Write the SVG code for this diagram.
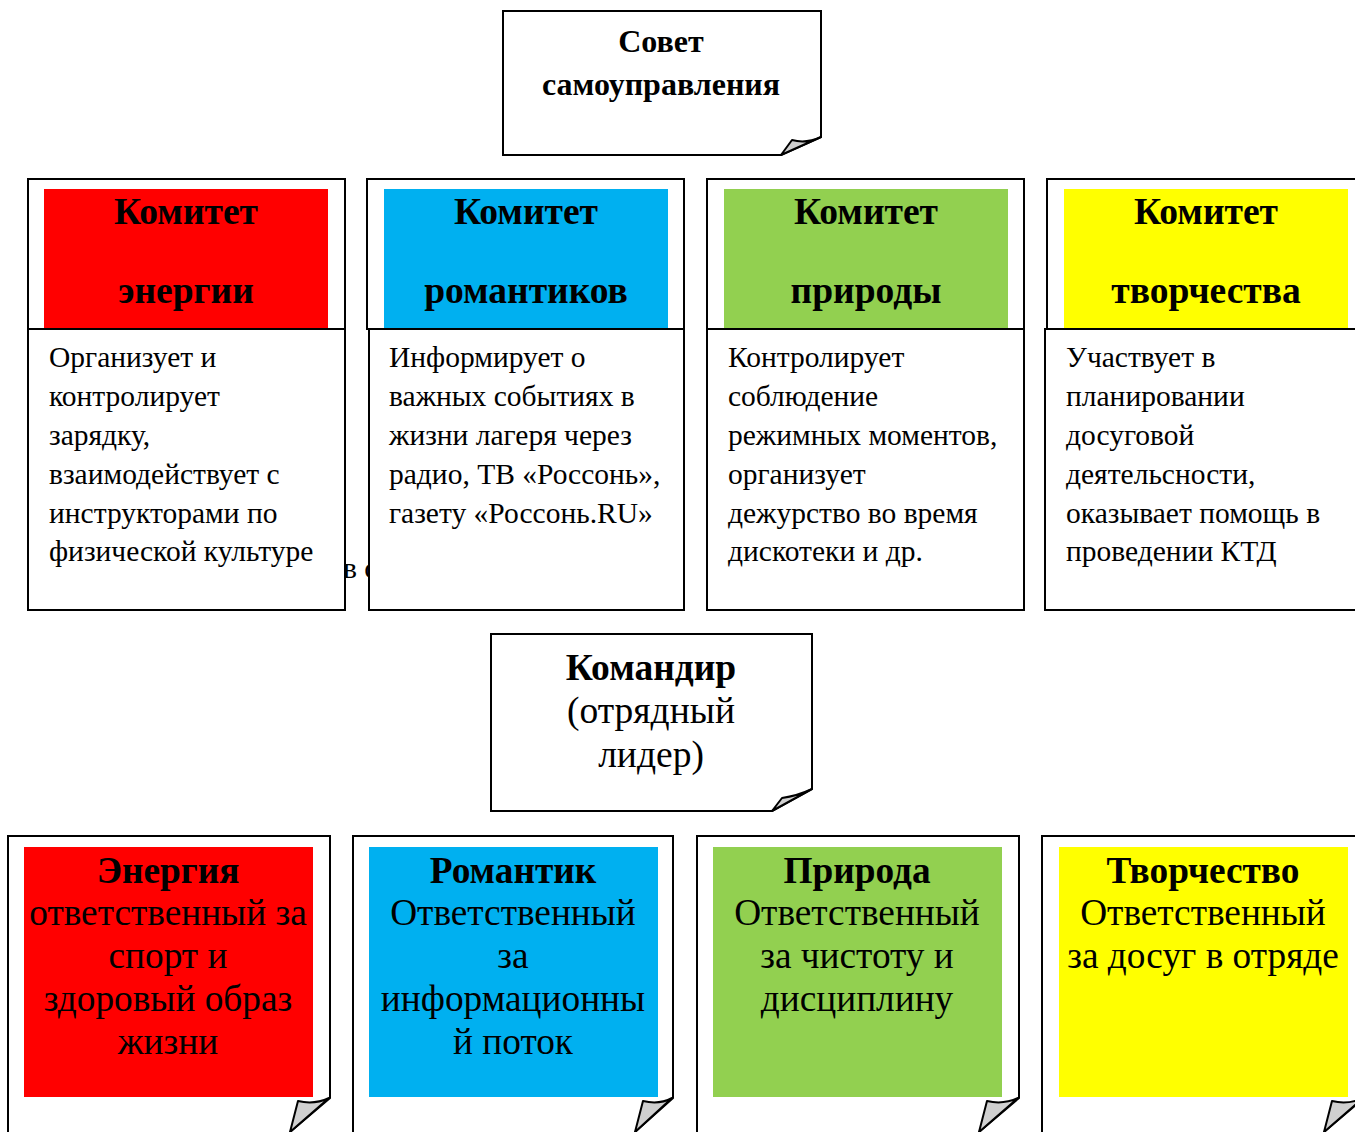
<svg xmlns="http://www.w3.org/2000/svg" width="1355" height="1132" viewBox="0 0 1355 1132">
<style>
.box{fill:#fff;stroke:#000;stroke-width:2}
.fold{fill:#d0d0d0;stroke:#000;stroke-width:2;stroke-linejoin:round}
.t{font-family:"Liberation Serif","Times New Roman",serif;fill:#000}
.b{font-weight:bold}
.c{text-anchor:middle}
.hd{font-size:37.5px;font-weight:bold;text-anchor:middle}
.ds{font-size:29.5px}
.bt{font-size:37.3px;text-anchor:middle}
</style>
<rect width="1355" height="1132" fill="#fff"/>
<g id="connectors"></g>

<g id="sovet">
<path class="box" d="M503,11 H821 V137 L781,155 H503 Z"/>
<path class="fold" d="M781,155 L792,140 Q806,144 821,137 Z"/>
<text class="t b c" x="661" y="52" font-size="32">Совет</text>
<text class="t b c" x="661" y="95" font-size="32">самоуправления</text>
</g>

<text class="t" x="343" y="578" font-size="29.5">в с</text>

<g id="kom-energii">
<rect class="box" x="28" y="179" width="317" height="150"/>
<rect x="44" y="189" width="284" height="139" fill="#ff0000"/>
<text class="t hd" x="186" y="224">Комитет</text>
<text class="t hd" x="186" y="303">энергии</text>
<rect class="box" x="28" y="329" width="317" height="281"/>
<text class="t ds" x="49" y="367">Организует и</text>
<text class="t ds" x="49" y="406">контролирует</text>
<text class="t ds" x="49" y="445">зарядку,</text>
<text class="t ds" x="49" y="484">взаимодействует с</text>
<text class="t ds" x="49" y="523">инструкторами по</text>
<text class="t ds" x="49" y="561">физической культуре</text>
</g>

<g id="kom-romantikov">
<rect class="box" x="367" y="179" width="317" height="150"/>
<rect x="384" y="189" width="284" height="139" fill="#00b0f0"/>
<text class="t hd" x="526" y="224">Комитет</text>
<text class="t hd" x="526" y="303">романтиков</text>
<rect class="box" x="369" y="329" width="315" height="281"/>
<text class="t ds" x="389" y="367">Информирует о</text>
<text class="t ds" x="389" y="406">важных событиях в</text>
<text class="t ds" x="389" y="445">жизни лагеря через</text>
<text class="t ds" x="389" y="484">радио, ТВ «Россонь»,</text>
<text class="t ds" x="389" y="523">газету «Россонь.RU»</text>
</g>

<g id="kom-prirody">
<rect class="box" x="707" y="179" width="317" height="150"/>
<rect x="724" y="189" width="284" height="139" fill="#92d050"/>
<text class="t hd" x="866" y="224">Комитет</text>
<text class="t hd" x="866" y="303">природы</text>
<rect class="box" x="707" y="329" width="317" height="281"/>
<text class="t ds" x="728" y="367">Контролирует</text>
<text class="t ds" x="728" y="406">соблюдение</text>
<text class="t ds" x="728" y="445">режимных моментов,</text>
<text class="t ds" x="728" y="484">организует</text>
<text class="t ds" x="728" y="523">дежурство во время</text>
<text class="t ds" x="728" y="561">дискотеки и др.</text>
</g>

<g id="kom-tvorchestva">
<rect class="box" x="1047" y="179" width="317" height="150"/>
<rect x="1064" y="189" width="284" height="139" fill="#ffff00"/>
<text class="t hd" x="1206" y="224">Комитет</text>
<text class="t hd" x="1206" y="303">творчества</text>
<rect class="box" x="1045" y="329" width="319" height="281"/>
<text class="t ds" x="1066" y="367">Участвует в</text>
<text class="t ds" x="1066" y="406">планировании</text>
<text class="t ds" x="1066" y="445">досуговой</text>
<text class="t ds" x="1066" y="484">деятельсности,</text>
<text class="t ds" x="1066" y="523">оказывает помощь в</text>
<text class="t ds" x="1066" y="561">проведении КТД</text>
</g>

<g id="komandir">
<path class="box" d="M491,634 H812 V789 L772,811 H491 Z"/>
<path class="fold" d="M772,811 L782,798 Q797,796 812,789 Z"/>
<text class="t b c" x="651" y="680" font-size="37.5">Командир</text>
<text class="t c" x="651" y="723" font-size="37.5">(отрядный</text>
<text class="t c" x="651" y="767" font-size="37.5">лидер)</text>
</g>

<g id="energiya">
<path class="box" d="M8,1140 V836 H330 V1098 L290,1132"/>
<rect x="24" y="847" width="289" height="250" fill="#ff0000"/>
<path class="fold" d="M290,1132 L298,1101 Q314,1105 329,1098 Z"/>
<text class="t bt b" x="168" y="883">Энергия</text>
<text class="t bt" x="168" y="925">ответственный за</text>
<text class="t bt" x="168" y="968">спорт и</text>
<text class="t bt" x="168" y="1011">здоровый образ</text>
<text class="t bt" x="168" y="1054">жизни</text>
</g>

<g id="romantik">
<path class="box" d="M353,1140 V836 H673 V1098 L635,1132"/>
<rect x="369" y="847" width="289" height="250" fill="#00b0f0"/>
<path class="fold" d="M635,1132 L643,1101 Q659,1105 672,1098 Z"/>
<text class="t bt b" x="513" y="883">Романтик</text>
<text class="t bt" x="513" y="925">Ответственный</text>
<text class="t bt" x="513" y="968">за</text>
<text class="t bt" x="513" y="1011">информационны</text>
<text class="t bt" x="513" y="1054">й поток</text>
</g>

<g id="priroda">
<path class="box" d="M697,1140 V836 H1019 V1098 L979,1132"/>
<rect x="713" y="847" width="289" height="250" fill="#92d050"/>
<path class="fold" d="M979,1132 L987,1101 Q1003,1105 1018,1098 Z"/>
<text class="t bt b" x="857" y="883">Природа</text>
<text class="t bt" x="857" y="925">Ответственный</text>
<text class="t bt" x="857" y="968">за чистоту и</text>
<text class="t bt" x="857" y="1011">дисциплину</text>
</g>

<g id="tvorchestvo">
<path class="box" d="M1042,1140 V836 H1364 V1098 L1324,1132"/>
<rect x="1059" y="847" width="289" height="250" fill="#ffff00"/>
<path class="fold" d="M1324,1132 L1332,1101 Q1348,1105 1363,1098 Z"/>
<text class="t bt b" x="1203" y="883">Творчество</text>
<text class="t bt" x="1203" y="925">Ответственный</text>
<text class="t bt" x="1203" y="968">за досуг в отряде</text>
</g>
</svg>
